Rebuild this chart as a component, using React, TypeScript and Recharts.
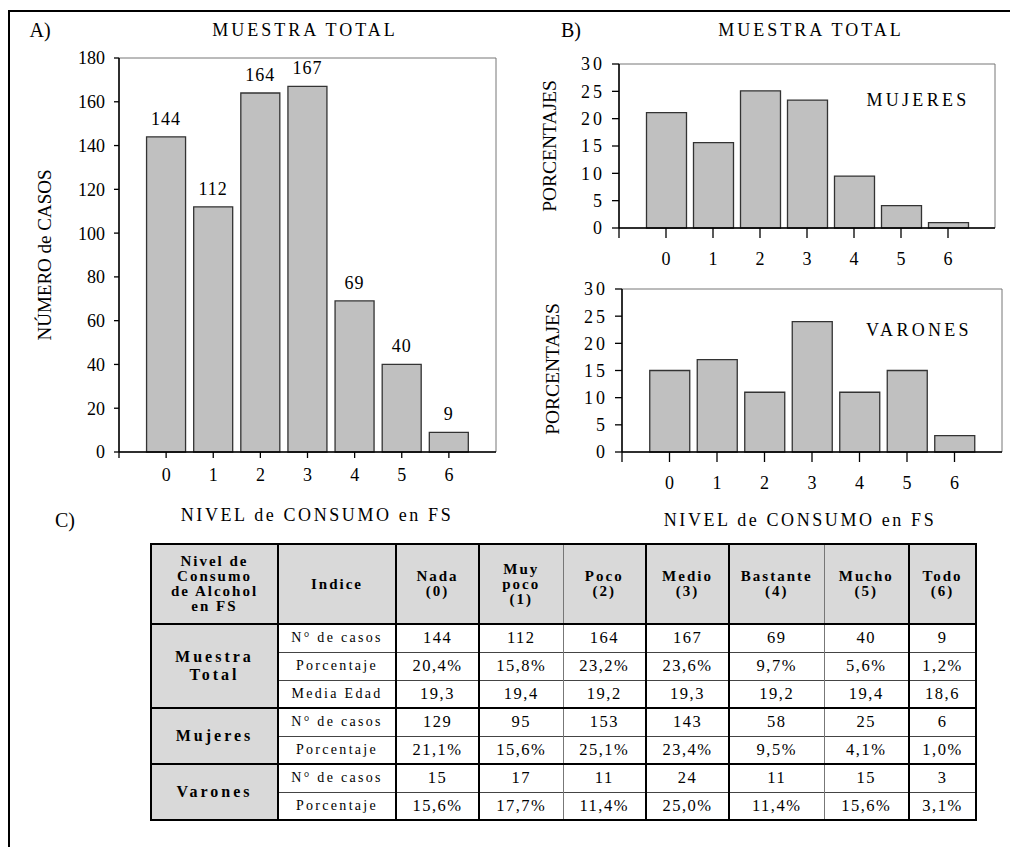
import React from 'react';
import { BarChart, Bar, XAxis, YAxis, ReferenceArea, LabelList } from 'recharts';

// consumption levels 0..6
const levels = [0, 1, 2, 3, 4, 5, 6];
const levelNames = [['Nada'], ['Muy', 'poco'], ['Poco'], ['Medio'], ['Bastante'], ['Mucho'], ['Todo']];

// muestra total
const totalCases = [144, 112, 164, 167, 69, 40, 9];
const totalPct = [20.4, 15.8, 23.2, 23.6, 9.7, 5.6, 1.2];
const totalAge = [19.3, 19.4, 19.2, 19.3, 19.2, 19.4, 18.6];

// mujeres
const womenCases = [129, 95, 153, 143, 58, 25, 6];
const womenPct = [21.1, 15.6, 25.1, 23.4, 9.5, 4.1, 1.0];

// varones (the bar chart plots the counts)
const menCases = [15, 17, 11, 24, 11, 15, 3];
const menPct = [15.6, 17.7, 11.4, 25.0, 11.4, 15.6, 3.1];

const xTicks = [-1, 0, 1, 2, 3, 4, 5, 6];
const countTicks = [0, 20, 40, 60, 80, 100, 120, 140, 160, 180];
const pctTicks = [0, 5, 10, 15, 20, 25, 30];

const SERIF = '"Liberation Serif", "Times New Roman", serif';

const fmt = (v: number) => v.toFixed(1).replace('.', ',');

type PanelProps = {
  values: number[];
  yMax: number;
  yTicks: number[];
  box: { left: number; top: number; width: number; height: number };
  plot: { left: number; top: number; right: number; bottom: number };
  xTickSize: number;
  xTickMargin: number;
  yTickSize: number;
  yTickMargin: number;
  yTickSpacing?: number;
  barSize: number;
  showLabels?: boolean;
};

const Panel = ({ values, yMax, yTicks, box, plot, xTickSize, xTickMargin, yTickSize, yTickMargin, yTickSpacing = 0, barSize, showLabels }: PanelProps) => {
  const data = levels.map((level, i) => ({ level, value: values[i] }));
  return (
    <div style={{ position: 'absolute', left: box.left, top: box.top }}>
      <BarChart
        width={box.width}
        height={box.height}
        data={data}
        margin={{ top: plot.top - box.top, right: box.left + box.width - plot.right, left: 0, bottom: 0 }}
      >
        <ReferenceArea x1={-1} x2={7} y1={0} y2={yMax} fill="none" stroke="#777" strokeWidth={1} ifOverflow="visible" />
        <XAxis
          type="number"
          dataKey="level"
          domain={[-1, 7]}
          ticks={xTicks}
          interval={0}
          height={box.top + box.height - plot.bottom}
          tickFormatter={(v: number) => (v < 0 ? '' : String(v))}
          tickSize={xTickSize}
          tickMargin={xTickMargin}
          axisLine={{ stroke: '#000', strokeWidth: 1.5 }}
          tickLine={{ stroke: '#000', strokeWidth: 1.3 }}
          tick={{ fill: '#000', fontSize: 18, fontFamily: SERIF }}
        />
        <YAxis
          type="number"
          domain={[0, yMax]}
          ticks={yTicks}
          interval={0}
          width={plot.left - box.left}
          tickSize={yTickSize}
          tickMargin={yTickMargin}
          axisLine={{ stroke: '#000', strokeWidth: 1.5 }}
          tickLine={{ stroke: '#000', strokeWidth: 1.3 }}
          tick={{ fill: '#000', fontSize: 18, fontFamily: SERIF, letterSpacing: yTickSpacing }}
        />
        <Bar dataKey="value" fill="#c0c0c0" stroke="#333" strokeWidth={1.3} barSize={barSize} isAnimationActive={false}>
          {showLabels && (
            <LabelList
              dataKey="value"
              position="top"
              offset={12}
              style={{ fill: '#000', fontSize: 18, fontFamily: SERIF, letterSpacing: 1 }}
            />
          )}
        </Bar>
      </BarChart>
    </div>
  );
};

const Txt = ({ x, y, size = 18, spacing = 0, rotate = false, children }: { x: number; y: number; size?: number; spacing?: number; rotate?: boolean; children: React.ReactNode }) => (
  <div
    style={{
      position: 'absolute',
      left: x,
      top: y,
      transform: `translate(-50%, -50%)${rotate ? ' rotate(-90deg)' : ''}`,
      fontFamily: SERIF,
      fontSize: size,
      letterSpacing: spacing,
      lineHeight: 1,
      whiteSpace: 'nowrap',
      color: '#000',
    }}
  >
    {children}
  </div>
);

const colWidths = [127, 118, 83, 84, 83, 83, 95, 85, 67];
const vBorder = (k: number) => (k === 4 || k === 7 ? '1px solid #777' : '2px solid #000');

const DataTable = () => {
  const groups = [
    {
      name: ['Muestra', 'Total'],
      rows: [
        { label: 'N° de casos', cells: totalCases.map(String) },
        { label: 'Porcentaje', cells: totalPct.map((v) => fmt(v) + '%') },
        { label: 'Media Edad', cells: totalAge.map(fmt) },
      ],
    },
    {
      name: ['Mujeres'],
      rows: [
        { label: 'N° de casos', cells: womenCases.map(String) },
        { label: 'Porcentaje', cells: womenPct.map((v) => fmt(v) + '%') },
      ],
    },
    {
      name: ['Varones'],
      rows: [
        { label: 'N° de casos', cells: menCases.map(String) },
        { label: 'Porcentaje', cells: menPct.map((v) => fmt(v) + '%') },
      ],
    },
  ];
  const headStyle = (c: number): React.CSSProperties => ({
    background: '#d9d9d9',
    borderTop: '2px solid #000',
    borderBottom: '2px solid #000',
    borderLeft: vBorder(c),
    borderRight: vBorder(c + 1),
    fontWeight: 'bold',
    fontSize: 15,
    letterSpacing: 2,
    lineHeight: '15px',
    textAlign: 'center',
    padding: 0,
  });
  return (
    <table
      style={{
        position: 'absolute',
        left: 150,
        top: 543,
        width: 825,
        borderCollapse: 'collapse',
        tableLayout: 'fixed',
        fontFamily: SERIF,
        color: '#000',
      }}
    >
      <colgroup>
        {colWidths.map((w, i) => (
          <col key={i} style={{ width: w }} />
        ))}
      </colgroup>
      <tbody>
        <tr style={{ height: 80 }}>
          <th style={headStyle(0)}>
            Nivel de<br />Consumo<br />de Alcohol<br />en FS
          </th>
          <th style={headStyle(1)}>Indice</th>
          {levelNames.map((n, i) => (
            <th key={i} style={headStyle(i + 2)}>
              {n.map((p, j) => (
                <div key={j}>{p}</div>
              ))}
              <div>({levels[i]})</div>
            </th>
          ))}
        </tr>
        {groups.map((g, gi) =>
          g.rows.map((r, ri) => {
            const top = ri === 0 ? '2px solid #000' : '1px solid #444';
            const isLast = gi === groups.length - 1 && ri === g.rows.length - 1;
            const bottom = isLast ? '2px solid #000' : 'none';
            return (
              <tr key={`${gi}-${ri}`} style={{ height: 28 }}>
                {ri === 0 && (
                  <td
                    rowSpan={g.rows.length}
                    style={{
                      background: '#d9d9d9',
                      border: '2px solid #000',
                      borderRight: vBorder(1),
                      fontWeight: 'bold',
                      fontSize: 16,
                      letterSpacing: 3,
                      lineHeight: '18px',
                      textAlign: 'center',
                      padding: 0,
                    }}
                  >
                    {g.name.map((p, j) => (
                      <div key={j}>{p}</div>
                    ))}
                  </td>
                )}
                <td
                  style={{
                    borderTop: top,
                    borderBottom: bottom,
                    borderLeft: vBorder(1),
                    borderRight: vBorder(2),
                    fontSize: 14,
                    letterSpacing: 2.3,
                    textAlign: 'center',
                    padding: 0,
                  }}
                >
                  {r.label}
                </td>
                {r.cells.map((c, ci) => (
                  <td
                    key={ci}
                    style={{
                      borderTop: top,
                      borderBottom: bottom,
                      borderLeft: vBorder(ci + 2),
                      borderRight: vBorder(ci + 3),
                      fontSize: 16.5,
                      letterSpacing: 1.5,
                      textAlign: 'center',
                      padding: 0,
                    }}
                  >
                    {c}
                  </td>
                ))}
              </tr>
            );
          })
        )}
      </tbody>
    </table>
  );
};

export default function App() {
  return (
    <div style={{ position: 'absolute', left: 0, top: 0, width: 1010, height: 847, background: '#fff', overflow: 'hidden' }}>
      <div style={{ position: 'absolute', left: 8, top: 10, right: 0, bottom: 0, borderLeft: '2.5px solid #000', borderTop: '2.5px solid #000' }} />

      <Panel
        values={totalCases}
        yMax={180}
        yTicks={countTicks}
        box={{ left: 0, top: 0, width: 510, height: 500 }}
        plot={{ left: 119, top: 58, right: 496, bottom: 452 }}
        xTickSize={6}
        xTickMargin={10}
        yTickSize={5}
        yTickMargin={9}
        barSize={39}
        showLabels
      />
      <Panel
        values={womenPct}
        yMax={30}
        yTicks={pctTicks}
        box={{ left: 505, top: 0, width: 505, height: 268 }}
        plot={{ left: 619, top: 64, right: 995, bottom: 228 }}
        xTickSize={10}
        xTickMargin={14}
        yTickSize={7}
        yTickMargin={7}
        yTickSpacing={3}
        barSize={40}
      />
      <Panel
        values={menCases}
        yMax={30}
        yTicks={pctTicks}
        box={{ left: 505, top: 260, width: 505, height: 232 }}
        plot={{ left: 622, top: 289, right: 1002, bottom: 452 }}
        xTickSize={10}
        xTickMargin={14}
        yTickSize={7}
        yTickMargin={7}
        yTickSpacing={3}
        barSize={40}
      />

      <Txt x={40} y={30} size={20}>A)</Txt>
      <Txt x={305} y={30} spacing={3}>MUESTRA TOTAL</Txt>
      <Txt x={571} y={30} size={20}>B)</Txt>
      <Txt x={811} y={30} spacing={3}>MUESTRA TOTAL</Txt>
      <Txt x={44} y={255} size={19} rotate>NÚMERO de CASOS</Txt>
      <Txt x={317} y={515} spacing={2.6}>NIVEL de CONSUMO en FS</Txt>
      <Txt x={550} y={146} size={19.5} rotate>PORCENTAJES</Txt>
      <Txt x={553} y={369} size={19.5} rotate>PORCENTAJES</Txt>
      <Txt x={918} y={100} spacing={3.3}>MUJERES</Txt>
      <Txt x={919} y={330} spacing={3.3}>VARONES</Txt>
      <Txt x={800} y={520} spacing={2.6}>NIVEL de CONSUMO en FS</Txt>
      <Txt x={65} y={520} size={20}>C)</Txt>

      <DataTable />
    </div>
  );
}
